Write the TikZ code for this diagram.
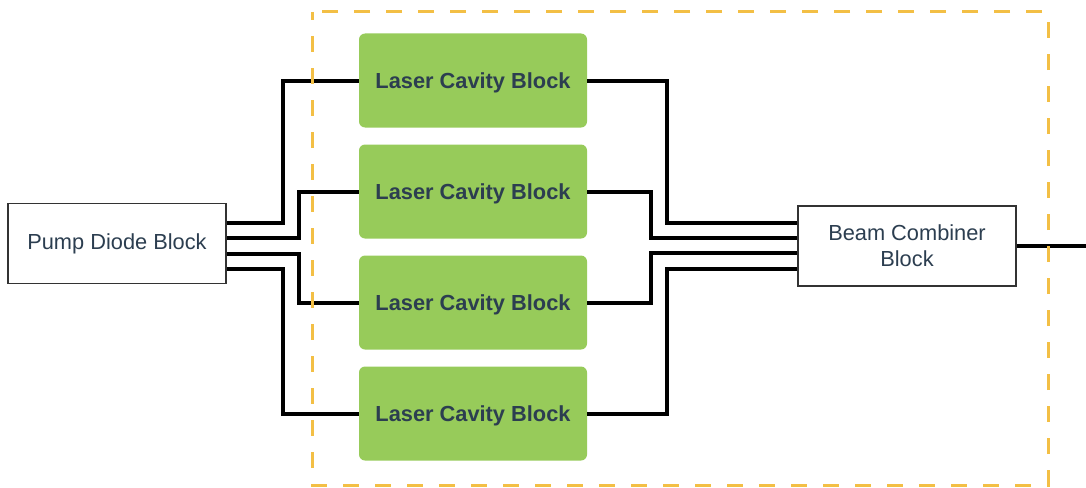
\documentclass[tikz,border=0pt]{standalone}
\usepackage{fontspec}
\setmainfont{Liberation Sans}
\usetikzlibrary{calc}
\definecolor{txt}{HTML}{2C3E50}
\definecolor{cavgreen}{HTML}{97CB5A}
\definecolor{dashyel}{HTML}{F3BF45}
\definecolor{boxline}{HTML}{333333}
\tikzset{
  plainbox/.style={draw=boxline, line width=1.6pt, fill=white, text=txt, inner sep=0pt,
    minimum width=218pt, minimum height=80pt, align=center,
    font=\fontsize{21.8}{26}\selectfont},
  cavbox/.style={fill=cavgreen, rounded corners=6pt, text=txt, inner sep=0pt,
    minimum width=228pt, minimum height=94pt, text depth=0pt,
    font=\fontsize{21.8}{26}\selectfont\bfseries},
  wire/.style={draw=black, line width=4pt},
  region/.style={draw=dashyel, line width=3pt, dash pattern=on 16pt off 16pt, dash phase=8pt}
}
\begin{document}
\begin{tikzpicture}[x=1pt,y=-1pt]
\useasboundingbox (0,0) rectangle (1086,487);
\node[plainbox] (pump) at (117,243.5) {Pump Diode Block};
\node[cavbox] (l1) at (473,80.5) {Laser Cavity Block};
\node[cavbox] (l2) at (473,191.5) {Laser Cavity Block};
\node[cavbox] (l3) at (473,302.5) {Laser Cavity Block};
\node[cavbox] (l4) at (473,413.5) {Laser Cavity Block};
\node[plainbox] (comb) at (907,246) {Beam Combiner\\Block};
\coordinate (out) at (1086,246);
% pump to cavities
\draw[wire] ([yshift=20.5pt]pump.east) -| ([xshift=-76pt]l1.west) -- (l1.west);
\draw[wire] ([yshift=5.5pt]pump.east) -| ([xshift=-60pt]l2.west) -- (l2.west);
\draw[wire] ([yshift=-10.5pt]pump.east) -| ([xshift=-60pt]l3.west) -- (l3.west);
\draw[wire] ([yshift=-25.5pt]pump.east) -| ([xshift=-76pt]l4.west) -- (l4.west);
% cavities to combiner
\draw[wire] (l1.east) -- ++(80,0) |- ([yshift=23pt]comb.west);
\draw[wire] (l2.east) -- ++(64,0) |- ([yshift=8pt]comb.west);
\draw[wire] (l3.east) -- ++(64,0) |- ([yshift=-7pt]comb.west);
\draw[wire] (l4.east) -- ++(80,0) |- ([yshift=-23pt]comb.west);
\draw[wire] (comb.east) -- (out);
% redraw box borders over wire ends
\node[plainbox, fill=none] at (pump.center) {\phantom{Pump Diode Block}};
\node[plainbox, fill=none] at (comb.center) {\phantom{Beam Combiner}\\\phantom{Block}};
% dashed region
\draw[region] (312,12) rectangle (1048,485);
\end{tikzpicture}
\end{document}
